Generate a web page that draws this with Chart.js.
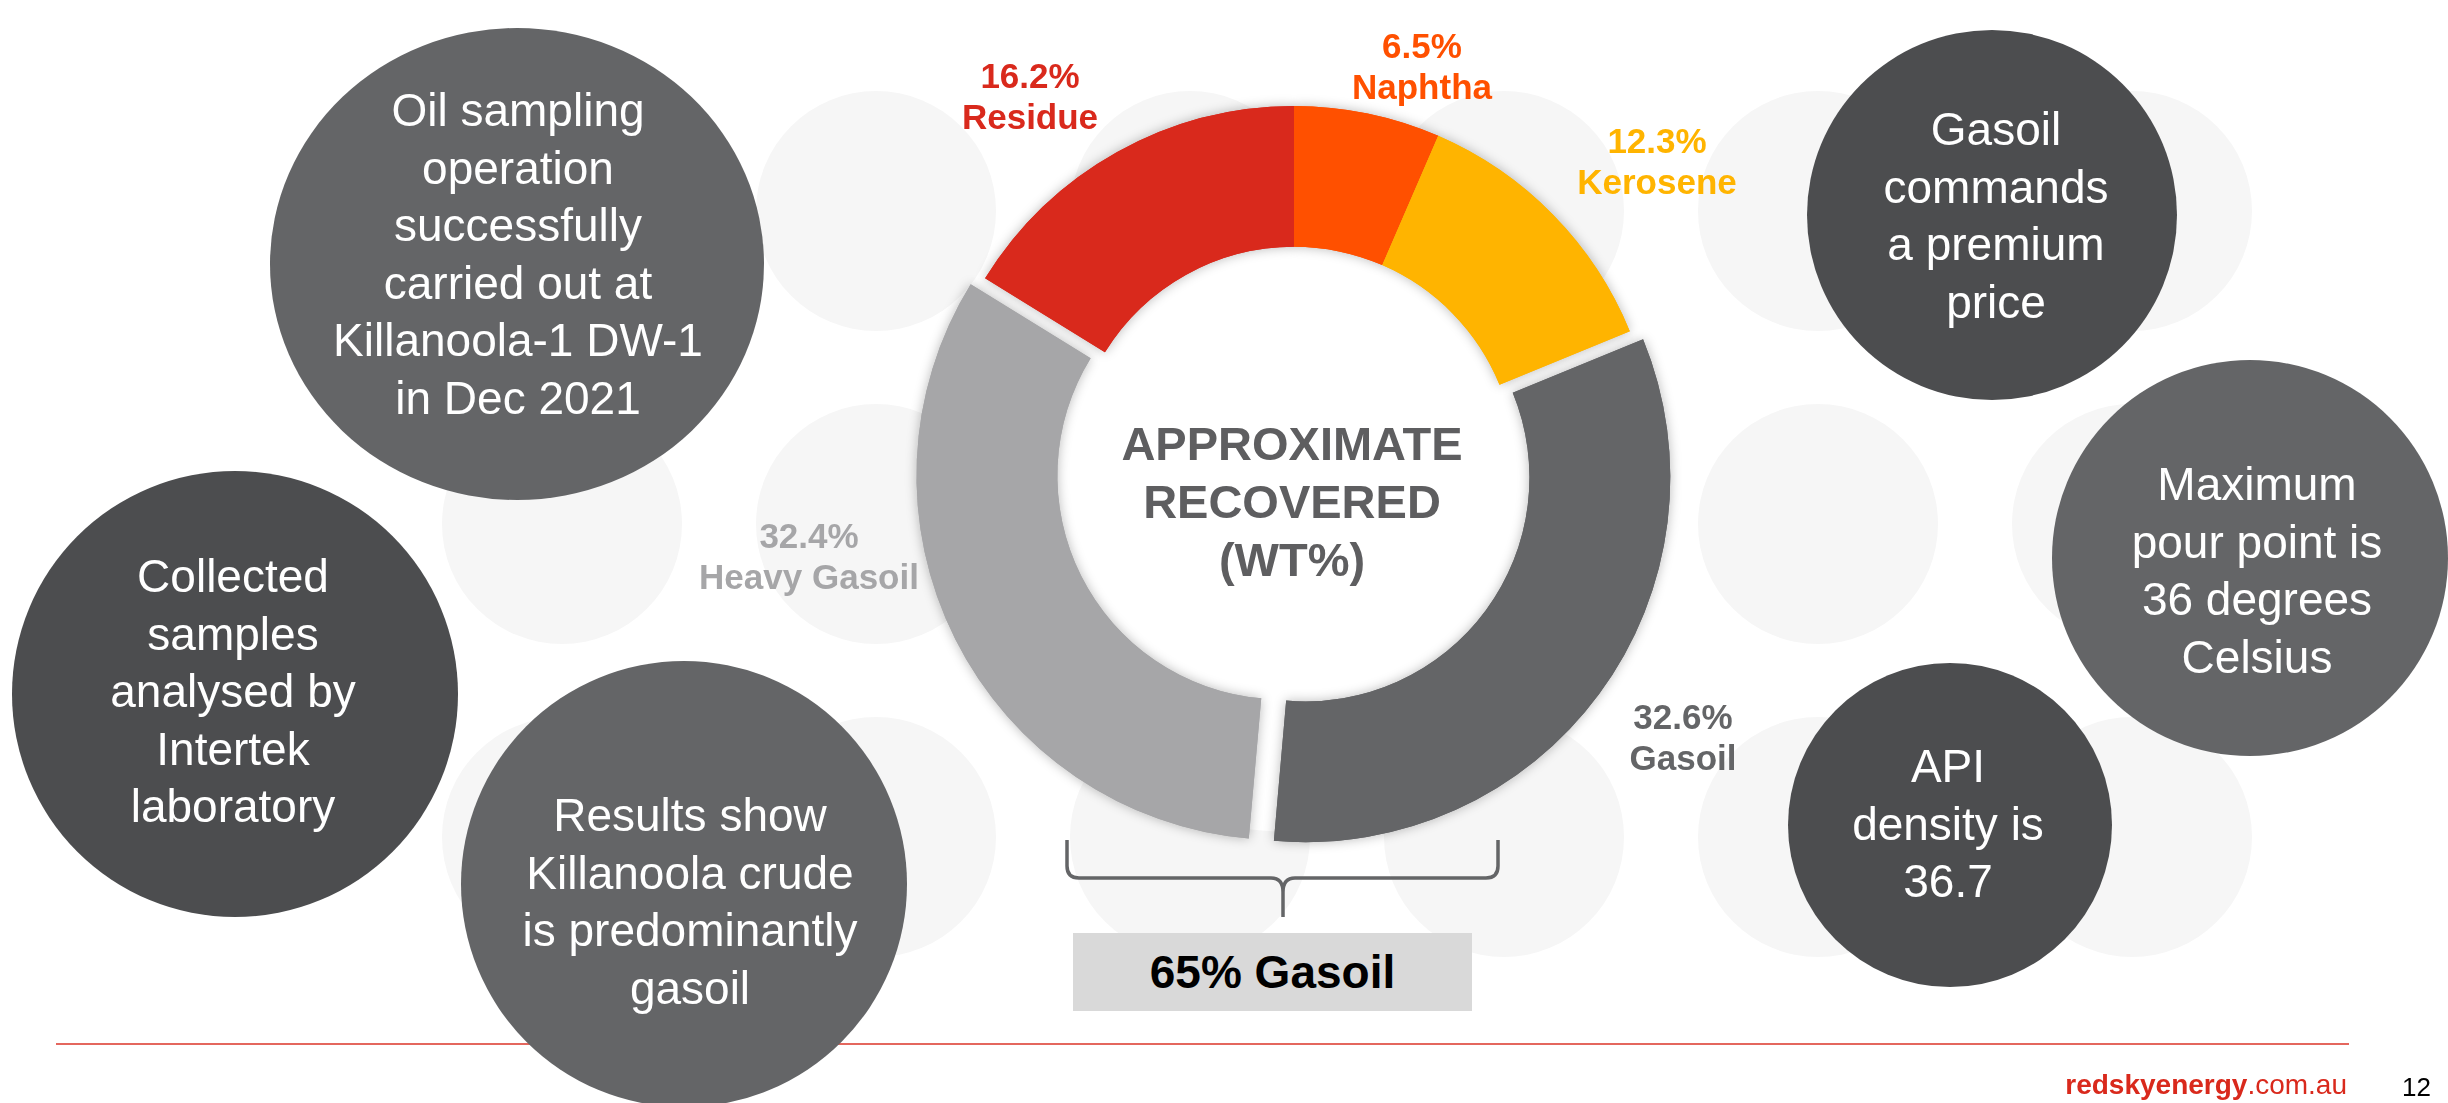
<!DOCTYPE html>
<html>
<head>
<meta charset="utf-8">
<script src="https://cdn.jsdelivr.net/npm/chart.js@4.4.0/dist/chart.umd.min.js"></script>
<style>
    body { margin: 0; width: 2448px; height: 1103px; overflow: hidden; background: #fff; position: relative;
           font-family: "Liberation Sans", Arial, sans-serif; }
    .blob { position: absolute; border-radius: 50%; background: #f6f6f6; }
    .bubble { position: absolute; border-radius: 50%; }
    .btxt { position: absolute; color: #fff; font-size: 46px; line-height: 57.5px; text-align: center;
            white-space: nowrap; transform: translateX(-50%); }
    .lbl { position: absolute; font-weight: bold; font-size: 35px; line-height: 41px; text-align: center;
           white-space: nowrap; transform: translate(-50%, -50%); }
    #donut { position: absolute; left: 844px; top: 19px; }
    #centro { position: absolute; left: 1292px; top: 415px; transform: translateX(-50%); text-align: center;
              font-weight: bold; font-size: 47px; line-height: 58px; color: #5e5e60; white-space: nowrap; }
    #chave { position: absolute; left: 0; top: 0; }
    #caixa { position: absolute; left: 1073px; top: 933px; width: 399px; height: 78px; background: #d9d9d9;
             font-weight: bold; font-size: 46px; line-height: 78px; text-align: center; color: #000; }
    #linha { position: absolute; left: 56px; top: 1043px; width: 2293px; height: 2px; background: #e4675e; }
    #site { position: absolute; right: 101px; top: 1069px; font-size: 28px; color: #d9291c; white-space: nowrap; }
    #pagina { position: absolute; left: 2402px; top: 1072px; font-size: 26px; color: #000; }
</style>
</head>
<body>

<canvas id="donut" width="900" height="900"></canvas>
<div id="centro">APPROXIMATE<br>RECOVERED<br>(WT%)</div>

<svg id="chave" width="2448" height="1103">
    <path d="M1067,840 L1067,866 Q1067,878 1079,878 L1271,878 Q1283,878 1283,892 L1283,917
             M1283,892 Q1283,878 1295,878 L1486,878 Q1498,878 1498,866 L1498,840"
          fill="none" stroke="#646567" stroke-width="3.5"/>
</svg>
<div id="caixa">65% Gasoil</div>

<div id="linha"></div>
<div id="site"><b>redskyenergy</b>.com.au</div>
<div id="pagina">12</div>

<script>
// --- dados do gráfico (WT% recuperado) ---
const categorias = ['Naphtha', 'Kerosene', 'Gasoil', 'Heavy Gasoil', 'Residue'];
const valores = [6.5, 12.3, 32.6, 32.4, 16.2];

// estilo de cada fatia (mesma ordem das categorias)
const cores = ['#ff5000', '#ffb400', '#646567', '#a6a6a8', '#d9291c'];
const deslocamento = [0, 0, 58, 58, 0]; // Gasoil e Heavy Gasoil destacados
const posRotulos = [[1422, 66], [1657, 161], [1683, 737], [809, 556], [1030, 96]];

// textos das bolhas laterais
const bolhas = [
    { txt: ['Oil sampling', 'operation', 'successfully', 'carried out at', 'Killanoola-1 DW-1', 'in Dec 2021'] },
    { txt: ['Collected', 'samples', 'analysed by', 'Intertek', 'laboratory'] },
    { txt: ['Results show', 'Killanoola crude', 'is predominantly', 'gasoil'] },
    { txt: ['Gasoil', 'commands', 'a premium', 'price'] },
    { txt: ['Maximum', 'pour point is', '36 degrees', 'Celsius'] },
    { txt: ['API', 'density is', '36.7'] }
];
// layout das bolhas: centro, raios, cor, posição do texto
const layoutBolhas = [
    { cx: 517, cy: 264, rx: 247, ry: 236, cor: '#646567', tx: 518, ty: 111 },
    { cx: 235, cy: 694, rx: 223, ry: 223, cor: '#4c4d4f', tx: 233, ty: 577 },
    { cx: 684, cy: 884, rx: 223, ry: 223, cor: '#646567', tx: 690, ty: 816 },
    { cx: 1992, cy: 215, rx: 185, ry: 185, cor: '#4c4d4f', tx: 1996, ty: 130 },
    { cx: 2250, cy: 558, rx: 198, ry: 198, cor: '#646567', tx: 2257, ty: 485 },
    { cx: 1950, cy: 825, rx: 162, ry: 162, cor: '#4c4d4f', tx: 1948, ty: 767 }
];

// padrão de fundo (círculos claros)
const fundo = [[876, 211], [1190, 211], [1504, 211], [1818, 211], [2132, 211],
               [562, 524], [876, 524], [1818, 524], [2132, 524],
               [562, 837], [876, 837], [1190, 837], [1504, 837], [1818, 837], [2132, 837]];

const body = document.body;
fundo.forEach(([x, y]) => {
    const d = document.createElement('div');
    d.className = 'blob';
    d.style.cssText = `left:${x - 120}px;top:${y - 120}px;width:240px;height:240px;z-index:-1`;
    body.appendChild(d);
});

bolhas.forEach((b, i) => {
    const l = layoutBolhas[i];
    const c = document.createElement('div');
    c.className = 'bubble';
    c.style.cssText = `left:${l.cx - l.rx}px;top:${l.cy - l.ry}px;width:${2 * l.rx}px;height:${2 * l.ry}px;background:${l.cor}`;
    body.appendChild(c);
    const t = document.createElement('div');
    t.className = 'btxt';
    t.style.left = l.tx + 'px';
    t.style.top = (l.ty - 28.75) + 'px';
    t.innerHTML = b.txt.join('<br>');
    body.appendChild(t);
});

// rótulos das fatias
categorias.forEach((cat, i) => {
    const d = document.createElement('div');
    d.className = 'lbl';
    d.style.left = posRotulos[i][0] + 'px';
    d.style.top = posRotulos[i][1] + 'px';
    d.style.color = cores[i];
    d.innerHTML = `${valores[i].toFixed(1)}%<br>${cat}`;
    body.appendChild(d);
});

// sombra suave por baixo das fatias + miolo branco
const sombra = {
    id: 'sombra',
    beforeDatasetDraw(chart, args) {
        const ctx = chart.ctx;
        const arcs = args.meta.data;
        ctx.save();
        ctx.fillStyle = '#fff';
        ctx.beginPath();
        ctx.arc(arcs[0].x, arcs[0].y, arcs[0].outerRadius, 0, Math.PI * 2);
        ctx.fill();
        ctx.restore();
        arcs.forEach(arc => {
            ctx.save();
            ctx.shadowColor = 'rgba(0,0,0,0.28)';
            ctx.shadowBlur = 12;
            arc.draw(ctx);
            ctx.restore();
        });
    }
};

new Chart(document.getElementById('donut'), {
    type: 'doughnut',
    data: {
        labels: categorias,
        datasets: [{
            data: valores,
            backgroundColor: cores,
            offset: deslocamento,
            hoverOffset: 0,
            borderWidth: 0
        }]
    },
    options: {
        responsive: false,
        animation: false,
        devicePixelRatio: 1,
        radius: 363,
        cutout: '61.2%',
        layout: { padding: 0 },
        events: [],
        plugins: { legend: { display: false }, tooltip: { enabled: false } }
    },
    plugins: [sombra]
});
</script>
</body>
</html>
